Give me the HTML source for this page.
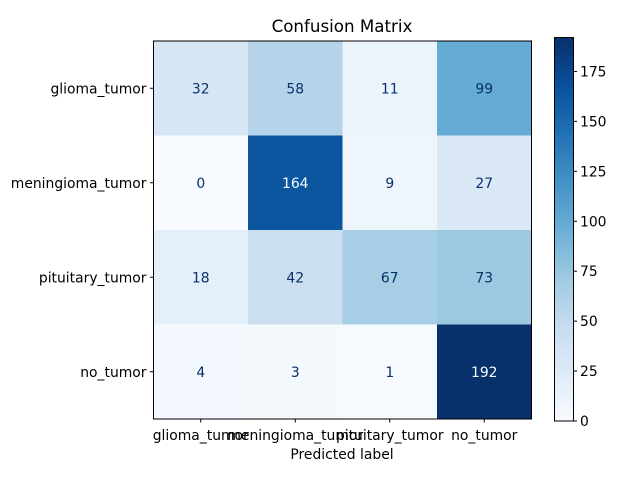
<!DOCTYPE html>
<html><head><meta charset="utf-8"><style>
body{margin:0;background:#fff}
svg{display:block;font-family:"DejaVu Sans","Liberation Sans",sans-serif}
</style></head><body>
<svg id="c" width="640" height="480">
<defs><linearGradient id="g" x1="0" y1="1" x2="0" y2="0">
<stop offset="0" stop-color="#f7fbff"/><stop offset="0.125" stop-color="#deebf7"/><stop offset="0.25" stop-color="#c6dbef"/><stop offset="0.375" stop-color="#9ecae1"/><stop offset="0.5" stop-color="#6baed6"/><stop offset="0.625" stop-color="#4292c6"/><stop offset="0.75" stop-color="#2171b5"/><stop offset="0.875" stop-color="#08519c"/><stop offset="1" stop-color="#08306b"/>
</linearGradient></defs>
<text x="342" y="32" font-size="16.7" text-anchor="middle">Confusion Matrix</text>
<g id="cells"></g>
<rect x="153.5" y="41" width="378" height="378" fill="none" stroke="#000" stroke-width="1"/>
<rect x="554.5" y="37.5" width="19" height="383.5" fill="url(#g)" stroke="#000" stroke-width="1"/>
<g id="cb"></g>
<text x="342" y="459" font-size="13.9" text-anchor="middle">Predicted label</text>
</svg>
<script>
const labels=["glioma_tumor","meningioma_tumor","pituitary_tumor","no_tumor"];
const matrix=[[32,58,11,99],[0,164,9,27],[18,42,67,73],[4,3,1,192]];
const cbTicks=[0,25,50,75,100,125,150,175];
const NS="http://www.w3.org/2000/svg";
const stops=[[247,251,255],[222,235,247],[198,219,239],[158,202,225],[107,174,214],[66,146,198],[33,113,181],[8,81,156],[8,48,107]];
function cmap(t){t=Math.max(0,Math.min(1,t));const p=t*8,i=Math.min(7,Math.floor(p)),f=p-i;const a=stops[i],b=stops[i+1];return`rgb(${a.map((v,k)=>Math.round(v+(b[k]-v)*f)).join(",")})`;}
const flat=matrix.flat(),mn=Math.min(...flat),mx=Math.max(...flat);
const X0=153.5,Y0=41,S=378/labels.length;
const xs=j=>X0+j*S, ys=i=>Y0+i*S;
const cbY=v=>421-(v-mn)/(mx-mn)*383.5;
const svg=document.getElementById('c'),cells=document.getElementById('cells'),cb=document.getElementById('cb');
function mk(tag,at,parent,txt){const e=document.createElementNS(NS,tag);for(const k in at)e.setAttribute(k,at[k]);if(txt!==undefined)e.textContent=txt;parent.appendChild(e);return e;}
matrix.forEach((row,i)=>row.forEach((v,j)=>{
 const r=mk('rect',{x:xs(j),y:ys(i),width:S+0.5,height:S+0.5,fill:cmap((v-mn)/(mx-mn))},cells);
 
 
 const t=mk('text',{x:xs(j)+S/2,y:ys(i)+S/2+5,'font-size':13.9,'text-anchor':'middle',fill:v>(mx+mn)/2+20?'#f7fbff':'#08306b'},cells,v);
 
 
}));
labels.forEach((l,i)=>{
 const y=ys(i)+S/2;
 mk('line',{x1:X0-3.5,x2:X0,y1:y,y2:y,stroke:'#000'},svg);
 const t=mk('text',{x:X0-7,y:y+5,'font-size':13.9,'text-anchor':'end'},svg,l);
 
 
 const x=xs(i)+S/2;
 mk('line',{x1:x,x2:x,y1:419,y2:422.5,stroke:'#000'},svg);
 const u=mk('text',{x:x,y:440,'font-size':13.9,'text-anchor':'middle'},svg,l);
 
 
});
cbTicks.forEach(v=>{
 const y=cbY(v);
 mk('line',{x1:573.5,x2:577,y1:y,y2:y,stroke:'#000'},cb);
 const t=mk('text',{x:580,y:y+5,'font-size':13.9},cb,v);
 
 
});
</script>
</body></html>
